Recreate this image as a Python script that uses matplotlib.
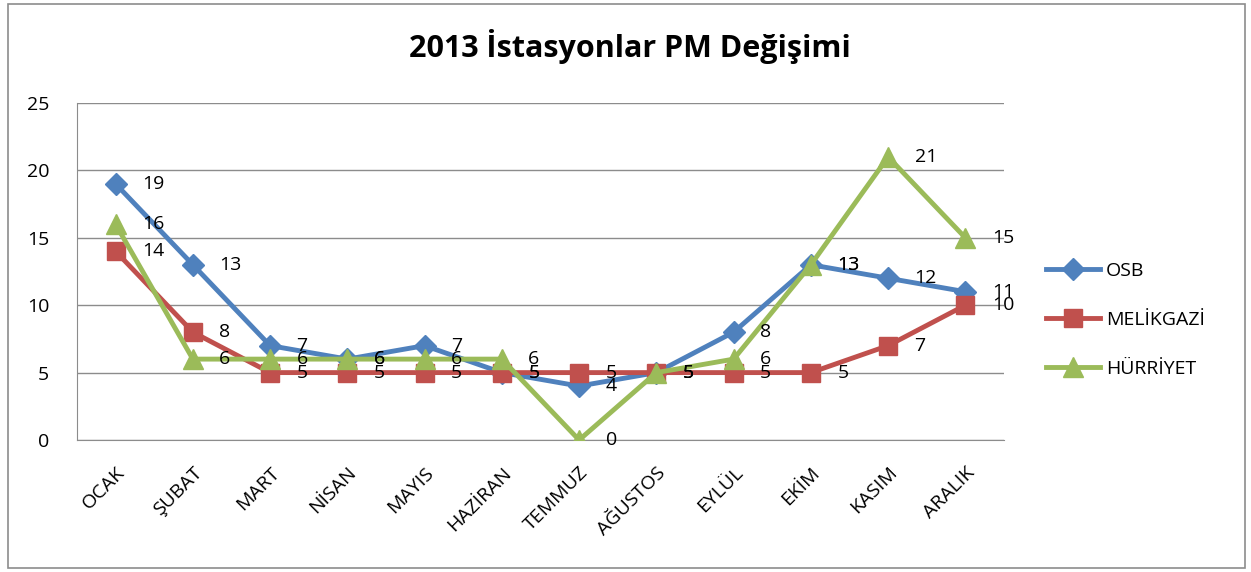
import matplotlib
matplotlib.use("Agg")
import matplotlib.pyplot as plt
from matplotlib.patches import Rectangle

months = ["OCAK", "ŞUBAT", "MART", "NİSAN", "MAYIS", "HAZİRAN", "TEMMUZ",
          "AĞUSTOS", "EYLÜL", "EKİM", "KASIM", "ARALIK"]
osb = [19, 13, 7, 6, 7, 5, 4, 5, 8, 13, 12, 11]
melikgazi = [14, 8, 5, 5, 5, 5, 5, 5, 5, 5, 7, 10]
hurriyet = [16, 6, 6, 6, 6, 6, 0, 5, 6, 13, 21, 15]
series_names = ["OSB", "MELİKGAZİ", "HÜRRİYET"]
title = "2013 İstasyonlar PM Değişimi"

plt.rcParams['font.family'] = ['Open Sans', 'DejaVu Sans']

W, H = 1251, 572
fig = plt.figure(figsize=(W / 100, H / 100), dpi=100)
ax = fig.add_axes([77 / W, 1 - 440 / H, (1004 - 77) / W, (440 - 103) / H])

styles = [
    (osb, "#4F81BD", "D", 11),
    (melikgazi, "#C0504D", "s", 13),
    (hurriyet, "#9BBB59", "^", 14),
]
x = list(range(len(months)))
for (vals, color, marker, ms), name in zip(styles, series_names):
    ax.plot(x, vals, color=color, lw=3.5, marker=marker, markersize=ms,
            label=name, zorder=3, solid_joinstyle='round')
for (vals, color, marker, ms) in styles:
    for xi, v in zip(x, vals):
        ax.annotate(str(v), (xi, v), xytext=(19, 0), textcoords='offset points',
                    ha='left', va='center', fontsize=14, color='black', zorder=5)

ax.set_xlim(-0.5, len(months) - 0.5)
ax.set_ylim(0, 25)
ax.set_yticks(range(0, 26, 5))
ax.set_xticks(x)
ax.set_xticklabels(months, rotation=45, ha='right', rotation_mode='anchor', fontsize=14)
ax.tick_params(axis='y', labelsize=14, length=0, pad=20)
ax.tick_params(axis='x', length=0, pad=17)
ax.grid(axis='y', color='#8C8C8C', lw=1)
ax.set_axisbelow(True)
for s in ['top', 'right']:
    ax.spines[s].set_visible(False)
ax.spines['left'].set_color('#8C8C8C')
ax.spines['bottom'].set_color('#8C8C8C')

fig.text(630 / W, 1 - 47 / H, title, ha='center', va='center', fontsize=22, fontweight='bold')

leg = ax.legend(loc='center left', bbox_to_anchor=(1028 / W, 1 - 320 / H),
                bbox_transform=fig.transFigure, frameon=False, fontsize=14,
                handlelength=2.8, labelspacing=1.6, handletextpad=0.3)

fig.patches.append(Rectangle((8 / W, 1 - 568 / H), (1245 - 8) / W, (568 - 4) / H,
                             transform=fig.transFigure, fill=False,
                             edgecolor='#8C8C8C', lw=1.2))

fig.savefig("out.png", dpi=100)
